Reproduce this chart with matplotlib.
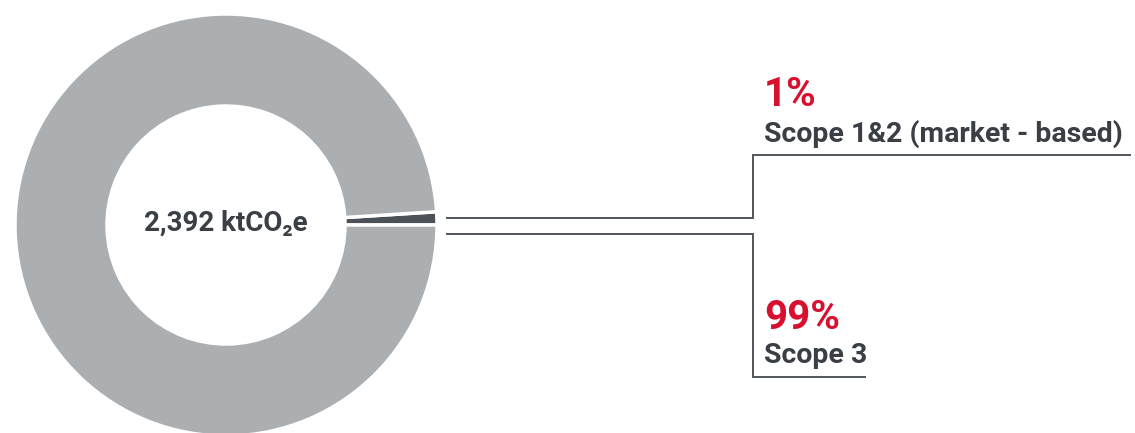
import matplotlib.pyplot as plt

# Emissions split
labels = ['Scope 1&2 (market - based)', 'Scope 3']
shares = [1, 99]
total_label = '2,392 ktCO\u2082e'

slice_colors = ['#4b5157', '#abafb2']
red = '#d7102f'
dark = '#3a3f45'
line_col = '#50565c'

W, H = 1135, 433
fig = plt.figure(figsize=(W / 100, H / 100), dpi=100)
ax = fig.add_axes([0, 0, 1, 1])
ax.set_aspect('equal')

cx, cy = 226, H - 225
r_out, r_in = 211, 119

ax.pie(shares, colors=slice_colors, startangle=0, counterclock=True,
       center=(cx, cy), radius=r_out, frame=True,
       wedgeprops=dict(width=r_out - r_in, edgecolor='white', linewidth=2.5))
ax.set_xlim(0, W)
ax.set_ylim(0, H)
ax.axis('off')

font = ['Roboto', 'DejaVu Sans']
ax.text(cx, cy + 2, total_label, ha='center', va='center', fontsize=20,
        fontweight='bold', color=dark, family=font)

# leader lines
x0, xk = 447, 753
ax.plot([x0, xk, xk, 1130], [H - 218, H - 218, H - 155, H - 155],
        color=line_col, lw=1.4, solid_joinstyle='miter')
ax.plot([x0, xk, xk, 865], [H - 234, H - 234, H - 377, H - 377],
        color=line_col, lw=1.4, solid_joinstyle='miter')

# labels
tx = 764
ax.text(tx, H - 106, f'{shares[0]}%', ha='left', va='baseline', fontsize=29,
        fontweight='bold', color=red, family=font)
ax.text(tx, H - 142, labels[0], ha='left', va='baseline', fontsize=20.5,
        fontweight='bold', color=dark, family=font)
ax.text(tx, H - 329, f'{shares[1]}%', ha='left', va='baseline', fontsize=29,
        fontweight='bold', color=red, family=font)
ax.text(tx, H - 363, labels[1], ha='left', va='baseline', fontsize=20.5,
        fontweight='bold', color=dark, family=font)

fig.savefig('out.png', dpi=100)
